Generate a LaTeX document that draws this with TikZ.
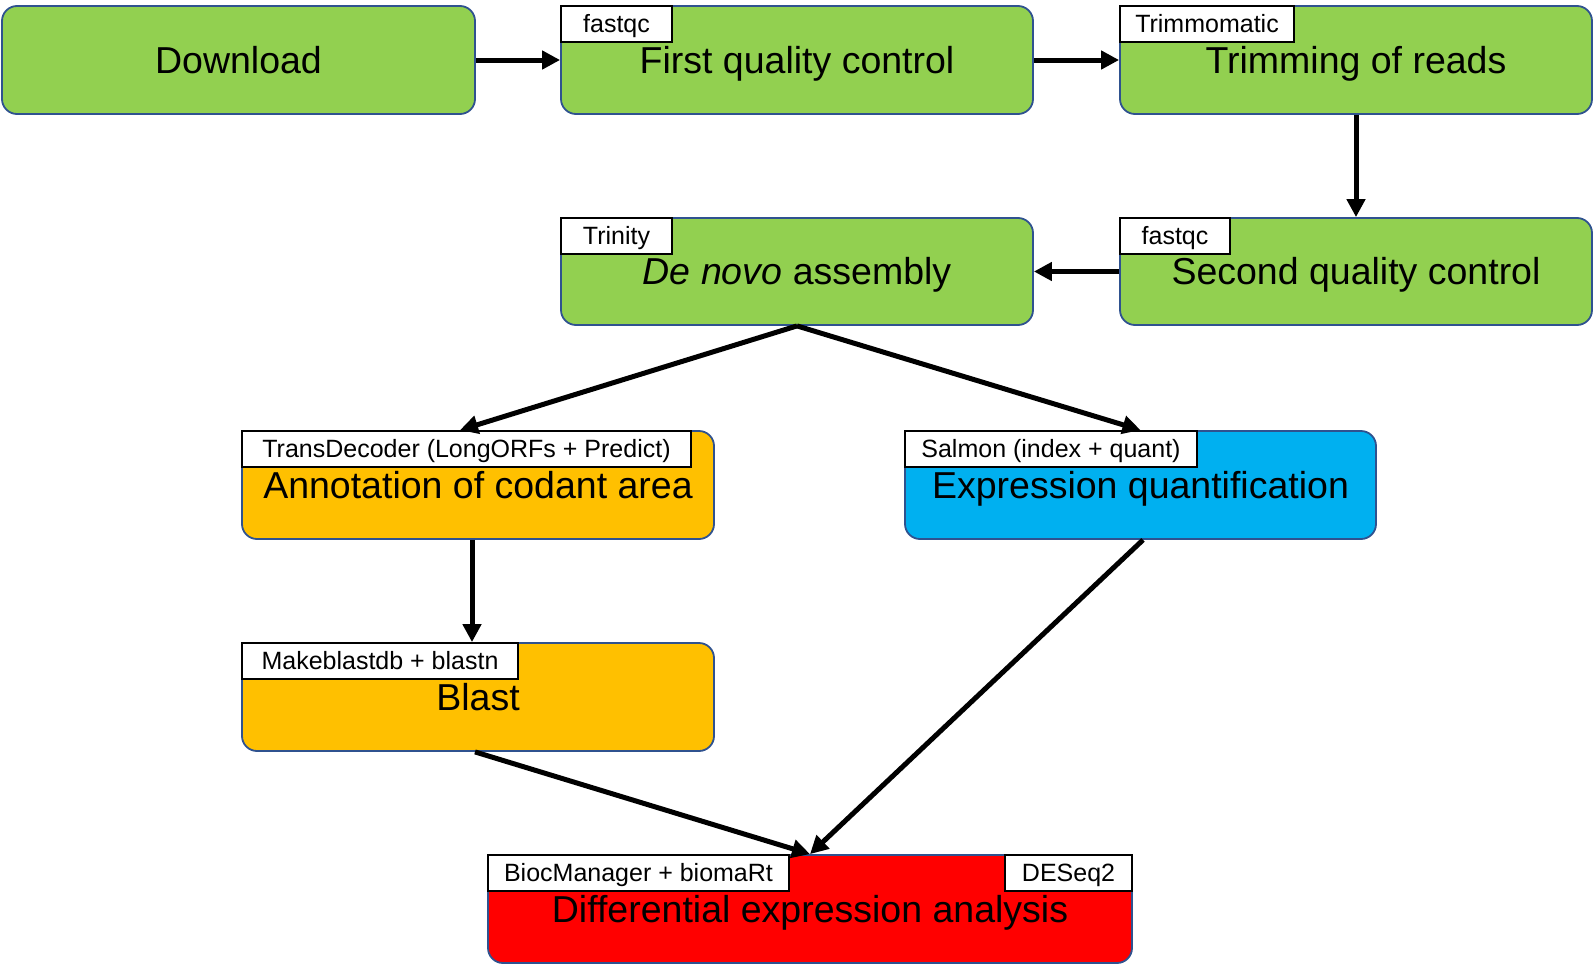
\documentclass[tikz,border=0pt]{standalone}
\usepackage{fontspec}
\setmainfont{Liberation Sans}
\usetikzlibrary{arrows.meta}
\definecolor{gbox}{HTML}{92D050}
\definecolor{obox}{HTML}{FFC000}
\definecolor{bbox}{HTML}{00B0F0}
\definecolor{rbox}{HTML}{FF0000}
\definecolor{edgeblue}{HTML}{2F528F}
\tikzset{
  stage/.style={draw=edgeblue, line width=1.8pt, rounded corners=15pt,
    minimum width=472pt, minimum height=108pt, inner sep=0pt,
    text height=26.9pt, text depth=0pt,
    font=\fontsize{37.5}{45}\selectfont},
  tag/.style={draw=black, fill=white, line width=1.8pt,
    minimum height=36pt, inner sep=0pt, text height=17.9pt, text depth=0pt,
    font=\fontsize{25}{30}\selectfont},
  flow/.style={line width=5pt, -{Triangle[length=18pt,width=18pt]}}
}
\begin{document}
\begin{tikzpicture}[x=1pt,y=-1pt]
\useasboundingbox (0,0) rectangle (1593,964);
% stage boxes
\node[stage, fill=gbox, minimum width=473pt] (dl) at (238.5,60) {Download};
\node[stage, fill=gbox] (fqc) at (797,60) {First quality control};
\node[stage, fill=gbox] (trim) at (1356,60) {Trimming of reads};
\node[stage, fill=gbox, minimum height=107pt] (sqc) at (1356,271.5) {Second quality control};
\node[stage, fill=gbox, minimum height=107pt] (dn) at (797,271.5) {\textit{De novo} assembly};
\node[stage, fill=obox] (ann) at (478,485) {Annotation of codant area};
\node[stage, fill=bbox, minimum width=471pt] (exp) at (1140.5,485) {Expression quantification};
\node[stage, fill=obox] (blast) at (478,697) {Blast};
\node[stage, fill=rbox, minimum width=644pt] (diff) at (810,909) {Differential expression analysis};
% tool tags
\node[tag, minimum width=111pt, anchor=north west] (t1) at (fqc.north west) {fastqc};
\node[tag, minimum width=174pt, anchor=north west] (t2) at (trim.north west) {Trimmomatic};
\node[tag, minimum width=110pt, anchor=north west] (t3) at (sqc.north west) {fastqc};
\node[tag, minimum width=111pt, anchor=north west] (t4) at (dn.north west) {Trinity};
\node[tag, minimum width=449pt, anchor=north west] (t5) at (ann.north west) {TransDecoder (LongORFs + Predict)};
\node[tag, minimum width=292pt, anchor=north west] (t6) at (exp.north west) {Salmon (index + quant)};
\node[tag, minimum width=276pt, anchor=north west] (t7) at (blast.north west) {Makeblastdb + blastn};
\node[tag, minimum width=301pt, anchor=north west] (t8) at (diff.north west) {BiocManager + biomaRt};
\node[tag, minimum width=127pt, anchor=north east] (t9) at (diff.north east) {DESeq2};
% connectors
\draw[flow] (dl.east) -- (fqc.west);
\draw[flow] (fqc.east) -- (trim.west);
\draw[flow] (trim.south) -- (sqc.north);
\draw[flow] (sqc.west) -- (dn.east);
\draw[flow] (dn.south) -- ([xshift=-18pt]ann.north);
\draw[flow] (dn.south) -- (exp.north);
\draw[flow] ([xshift=-6pt]ann.south) -- ([xshift=-6pt]blast.north);
\draw[flow] ([xshift=-3pt]blast.south) -- (diff.north);
\draw[flow] ([xshift=2.5pt]exp.south) -- (diff.north);
\end{tikzpicture}
\end{document}
